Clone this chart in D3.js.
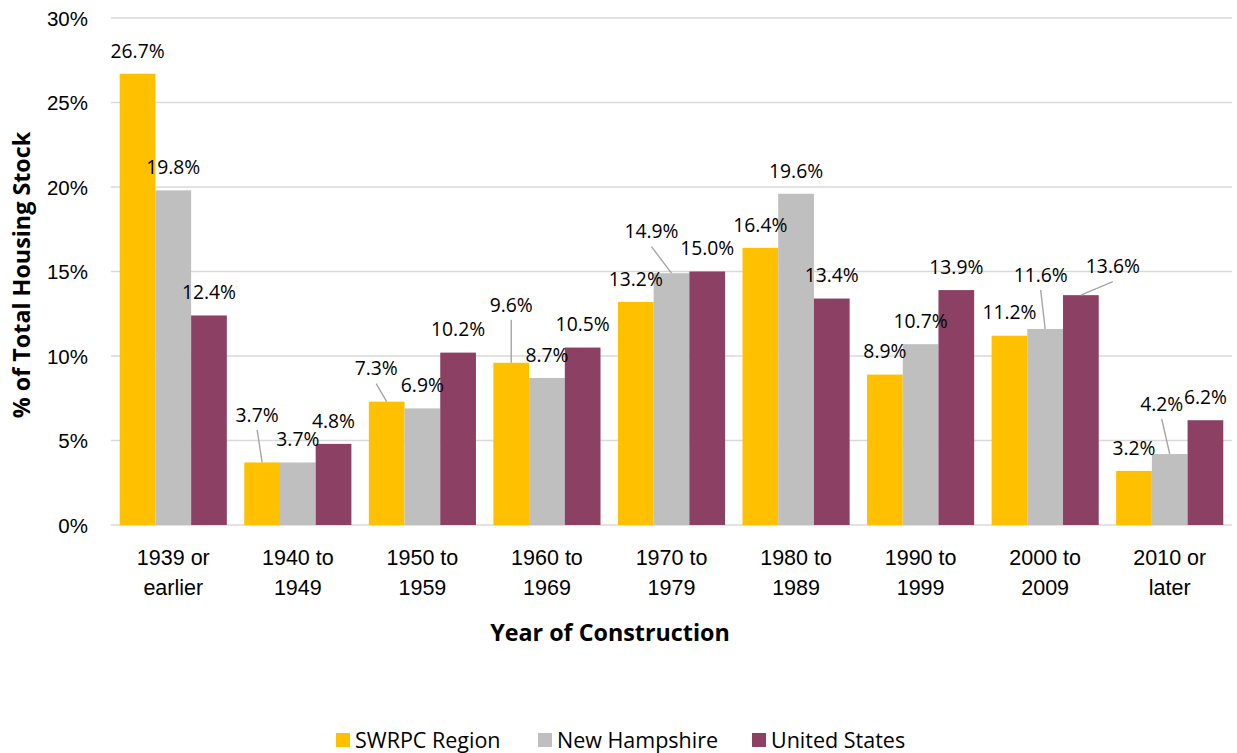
<!DOCTYPE html>
<html>
<head>
<meta charset="utf-8">
<script src="https://cdn.jsdelivr.net/npm/d3@7"></script>
<style>
  html, body { margin: 0; padding: 0; background: #fff; }
  svg { display: block; font-family: "Open Sans", sans-serif; }
</style>
</head>
<body>
<svg id="chart" width="1237" height="753"></svg>
<script>
const categories = ["1939 or earlier", "1940 to 1949", "1950 to 1959", "1960 to 1969", "1970 to 1979", "1980 to 1989", "1990 to 1999", "2000 to 2009", "2010 or later"];
const seriesNames = ["SWRPC Region", "New Hampshire", "United States"];
const swrpc = [26.7, 3.7, 7.3, 9.6, 13.2, 16.4, 8.9, 11.2, 3.2];
const newHampshire = [19.8, 3.7, 6.9, 8.7, 14.9, 19.6, 10.7, 11.6, 4.2];
const unitedStates = [12.4, 4.8, 10.2, 10.5, 15.0, 13.4, 13.9, 13.6, 6.2];
const yTicks = [0, 5, 10, 15, 20, 25, 30];

const colors = ["#FFC000", "#BFBFBF", "#8B4064"];
// label nudges (px) for labels moved off their default spot; a leader line is drawn for these
const labelNudge = {
  "0-1": [-5, -24.5], "0-2": [-10.5, -10], "0-3": [0, -35],
  "1-4": [-20, -18.5], "1-7": [-4.5, -31], "1-8": [-8, -27],
  "2-7": [32, -5.5]
};

const values = [swrpc, newHampshire, unitedStates];
const svg = d3.select("#chart");

const x = d3.scaleBand().domain(categories).range([111, 1232]).paddingInner(0.14).paddingOuter(0.07);
const xs = d3.scaleBand().domain(seriesNames).range([0, x.bandwidth()]).padding(0);
const y = d3.scaleLinear().domain([0, 30]).range([525, 18]);

// gridlines
svg.append("g").selectAll("line").data(yTicks).join("line")
  .attr("x1", 111).attr("x2", 1232)
  .attr("y1", d => y(d)).attr("y2", d => y(d))
  .attr("stroke", "#D9D9D9").attr("stroke-width", 1.4);

// y axis labels
const yAxis = d3.axisLeft(y).tickValues(yTicks).tickFormat(d => d + "%").tickSize(0).tickPadding(0);
const gy = svg.append("g").attr("transform", "translate(88,0)").call(yAxis);
gy.select(".domain").remove();
gy.selectAll("text").attr("font-size", 20.5).attr("fill", "#000").attr("font-family", null).attr("dy", "0.35em");

// bars
const groups = svg.append("g").selectAll("g").data(categories).join("g")
  .attr("transform", d => `translate(${x(d)},0)`);
groups.selectAll("rect").data((c, i) => seriesNames.map((s, k) => ({ s, k, v: values[k][i] })))
  .join("rect")
  .attr("x", d => xs(d.s)).attr("width", xs.bandwidth())
  .attr("y", d => y(d.v)).attr("height", d => y(0) - y(d.v))
  .attr("fill", d => colors[d.k]);

// data labels
const labelData = [];
categories.forEach((c, i) => {
  seriesNames.forEach((s, k) => {
    const v = values[k][i];
    const bx = x(c) + xs(s) + xs.bandwidth() / 2;
    const by = y(v);
    const n = labelNudge[k + "-" + i];
    const lx = bx + (n ? n[0] : 0);
    const ly = by - 23 + (n ? n[1] : 0);
    labelData.push({ v, bx, by, lx, ly, leader: !!n });
  });
});
const lbl = svg.append("g");
lbl.selectAll("line").data(labelData.filter(d => d.leader)).join("line")
  .attr("x1", d => d.lx).attr("y1", d => d.ly + 15)
  .attr("x2", d => d.bx).attr("y2", d => d.by)
  .attr("stroke", "#A6A6A6").attr("stroke-width", 1.4);
lbl.selectAll("text").data(labelData).join("text")
  .attr("x", d => d.lx).attr("y", d => d.ly).attr("dy", "0.35em")
  .attr("text-anchor", "middle").attr("font-size", 19.3).attr("fill", "#000")
  .text(d => d.v.toFixed(1) + "%");

// x category labels
const xAxis = d3.axisBottom(x).tickSize(0).tickFormat("");
const gx = svg.append("g").attr("transform", "translate(0,525)").call(xAxis);
gx.select(".domain").remove();
gx.selectAll(".tick").each(function (d) {
  const w = d.split(" ");
  const lines = [w.slice(0, 2).join(" "), w.slice(2).join(" ")];
  const t = d3.select(this).append("text").attr("text-anchor", "middle")
    .attr("font-size", 21.5).attr("fill", "#000");
  lines.forEach((ln, j) => t.append("tspan").attr("x", 0).attr("y", 32 + j * 30).attr("dy", "0.35em").text(ln));
});

// axis titles
svg.append("text").attr("x", 610).attr("y", 633).attr("dy", "0.35em").attr("text-anchor", "middle")
  .attr("font-size", 23.3).attr("font-weight", "bold").attr("fill", "#000").text("Year of Construction");
svg.append("text").attr("transform", "translate(22,275) rotate(-90)").attr("dy", "0.35em").attr("text-anchor", "middle")
  .attr("font-size", 23.3).attr("font-weight", "bold").attr("fill", "#000").text("% of Total Housing Stock");

// legend
const legendX = [336, 538, 752];
const lg = svg.append("g").selectAll("g").data(seriesNames).join("g")
  .attr("transform", (d, i) => `translate(${legendX[i]},740)`);
lg.append("rect").attr("x", 0).attr("y", -7).attr("width", 14).attr("height", 14).attr("fill", (d, i) => colors[i]);
lg.append("text").attr("x", 19).attr("y", 0).attr("dy", "0.35em").attr("font-size", 21.5).attr("fill", "#000").text(d => d);
</script>
</body>
</html>
